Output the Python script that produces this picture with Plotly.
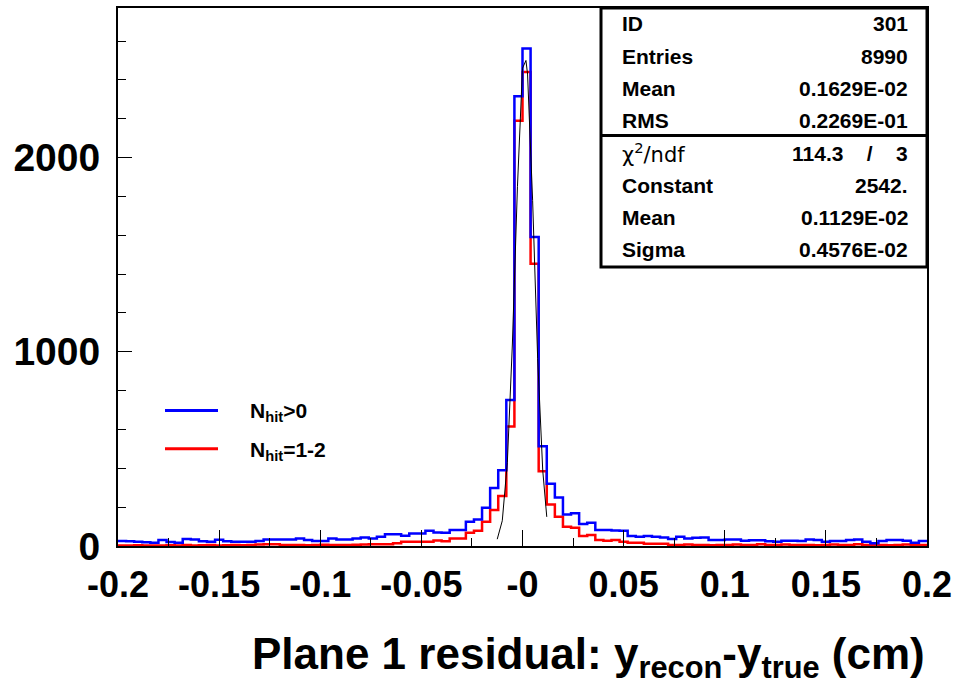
import numpy as np
import plotly.graph_objects as go

# ---------------- data ----------------
bin_lo, bin_hi, n_bins = -0.2, 0.2, 100

# N_hit > 0 (blue) counts per bin
blue_counts = [
    26, 24, 22, 19, 17, 31, 20, 17, 36, 33,
    24, 22, 32, 24, 22, 22, 22, 26, 34, 34,
    34, 34, 39, 31, 26, 26, 39, 34, 34, 39,
    44, 39, 48, 60, 60, 53, 65, 65, 79, 70,
    68, 82, 82, 125, 137, 197, 299, 390, 752, 2316,
    2561, 1591, 514, 321, 250, 162, 168, 113, 120, 83,
    82, 80, 79, 51, 48, 51, 48, 44, 36, 48,
    39, 43, 44, 31, 31, 34, 34, 27, 29, 29,
    25, 22, 27, 27, 26, 34, 31, 22, 26, 26,
    31, 34, 22, 14, 26, 31, 31, 27, 17, 26,
]

# N_hit = 1-2 (red) counts per bin
red_counts = [
    3, 2, 4, 3, 2, 3, 4, 2, 5, 3,
    4, 5, 3, 4, 5, 4, 5, 8, 9, 9,
    5, 5, 5, 4, 5, 6, 5, 5, 5, 6,
    8, 9, 9, 9, 14, 22, 22, 22, 22, 28,
    24, 39, 39, 68, 79, 125, 185, 258, 615, 2190,
    2441, 1453, 385, 214, 150, 99, 94, 51, 56, 31,
    27, 31, 22, 17, 17, 12, 12, 12, 5, 5,
    8, 5, 5, 4, 5, 5, 8, 5, 5, 9,
    5, 5, 8, 5, 5, 5, 4, 5, 8, 5,
    5, 9, 5, 5, 5, 4, 5, 8, 5, 5,
]

# Gaussian fit curve
fit_x = [-0.0125, -0.010, -0.0075, -0.005, -0.0025, 0.0, 0.0017, 0.0025, 0.005, 0.0075, 0.010, 0.012]
fit_y = [35, 130, 430, 1040, 1850, 2460, 2500, 2430, 1780, 965, 390, 150]

x_tickvals = [-0.2, -0.15, -0.1, -0.05, 0.0, 0.05, 0.1, 0.15, 0.2]
x_ticktext = ["-0.2", "-0.15", "-0.1", "-0.05", "-0", "0.05", "0.1", "0.15", "0.2"]
y_tickvals = [0, 1000, 2000]
y_ticktext = ["0", "1000", "2000"]

legend_names = ["N<sub>hit</sub>>0", "N<sub>hit</sub>=1-2"]
legend_colors = ["#0000ff", "#ff0000"]

stat_labels = ["ID", "Entries", "Mean", "RMS", "χ<sup>2</sup>/ndf", "Constant", "Mean", "Sigma"]
stat_values = ["301", "8990", "0.1629E-02", "0.2269E-01",
               "114.3\u00a0\u00a0\u00a0\u00a0/\u00a0\u00a0\u00a0\u00a03",
               "2542.", "0.1129E-02", "0.4576E-02"]

x_title = "Plane 1 residual: y<sub>recon</sub>-y<sub>true</sub> (cm)"

# ---------------- figure ----------------
FONT = "Liberation Sans, Arial, Helvetica, sans-serif"
W, H = 959, 686
ML, MR, MT, MB = 118, 32, 6, 140
PW, PH = W - ML - MR, H - MT - MB


def px2paper(px, py):
    return (px - ML) / PW, (H - MB - py) / PH


edges = np.linspace(bin_lo, bin_hi, n_bins + 1)

fig = go.Figure()
for counts, color in [(red_counts, legend_colors[1]), (blue_counts, legend_colors[0])]:
    fig.add_trace(go.Scatter(
        x=edges, y=list(counts) + [counts[-1]], mode="lines",
        line=dict(shape="hv", color=color, width=2.5), showlegend=False,
        hoverinfo="skip"))

fig.add_trace(go.Scatter(x=fit_x, y=fit_y, mode="lines",
                         line=dict(color="black", width=1), showlegend=False))

fig.update_layout(
    width=W, height=H,
    margin=dict(l=ML, r=MR, t=MT, b=MB),
    paper_bgcolor="white", plot_bgcolor="white",
    showlegend=False,
)
fig.update_xaxes(
    range=[bin_lo, bin_hi], showgrid=False, zeroline=False,
    showline=True, linecolor="black", linewidth=2, mirror=True,
    tickvals=x_tickvals, ticktext=x_ticktext,
    ticks="inside", ticklen=16, tickwidth=1.2, tickcolor="black",
    tickfont=dict(family=FONT, size=36, color="black", weight="bold"),
    ticklabelstandoff=6,
    minor=dict(dtick=0.025, tick0=bin_lo, ticks="inside", ticklen=8,
               tickwidth=1.2, tickcolor="black", showgrid=False),
)
fig.update_yaxes(
    range=[0, 2770], showgrid=False, zeroline=False,
    showline=True, linecolor="black", linewidth=2, mirror=True,
    tickvals=y_tickvals, ticktext=y_ticktext,
    ticks="inside", ticklen=14, tickwidth=1.2, tickcolor="black",
    tickfont=dict(family=FONT, size=39, color="black", weight="bold"),
    ticklabelstandoff=8,
    minor=dict(dtick=200, tick0=0, ticks="inside", ticklen=8,
               tickwidth=1.2, tickcolor="black", showgrid=False),
)

shapes = []
annotations = []

# x-axis title
tx, ty = px2paper(927, 657)
annotations.append(dict(x=tx, y=ty, xref="paper", yref="paper", text=x_title,
                        showarrow=False, xanchor="right", yanchor="middle",
                        font=dict(family=FONT, size=44, color="black", weight="bold")))

# legend
for i, (name, color) in enumerate(zip(legend_names, legend_colors)):
    ly = 410 + 38.5 * i
    x0, y0 = px2paper(165, ly)
    x1, _ = px2paper(218, ly)
    shapes.append(dict(type="line", xref="paper", yref="paper", x0=x0, x1=x1, y0=y0, y1=y0,
                       line=dict(color=color, width=3)))
    tx, ty = px2paper(248, ly + 2)
    annotations.append(dict(x=tx, y=ty, xref="paper", yref="paper", text=name,
                            showarrow=False, xanchor="left", yanchor="middle",
                            font=dict(family=FONT, size=21, color="black", weight="bold")))

# stats box
bx0, by0 = px2paper(601, 266)
bx1, by1 = 1.0, 1.0
shapes.append(dict(type="rect", xref="paper", yref="paper", x0=bx0, x1=bx1, y0=by0, y1=by1,
                   line=dict(color="black", width=3), fillcolor="white", layer="above"))
_, dy = px2paper(0, 134)
shapes.append(dict(type="line", xref="paper", yref="paper", x0=bx0, x1=bx1, y0=dy, y1=dy,
                   line=dict(color="black", width=3)))
for i, (lab, val) in enumerate(zip(stat_labels, stat_values)):
    ry = 22 + 32.4 * i
    lx, ly = px2paper(620, ry)
    rx, _ = px2paper(910, ry)
    if lab.startswith("χ"):
        lfont = dict(family="DejaVu Sans", size=21, color="black")
    else:
        lfont = dict(family=FONT, size=21, color="black", weight="bold")
    annotations.append(dict(x=lx, y=ly, xref="paper", yref="paper", text=lab,
                            showarrow=False, xanchor="left", yanchor="middle", font=lfont))
    annotations.append(dict(x=rx, y=ly, xref="paper", yref="paper", text=val,
                            showarrow=False, xanchor="right", yanchor="middle",
                            font=dict(family=FONT, size=21, color="black", weight="bold")))

fig.update_layout(shapes=shapes, annotations=annotations)
fig.write_html("out.html")
